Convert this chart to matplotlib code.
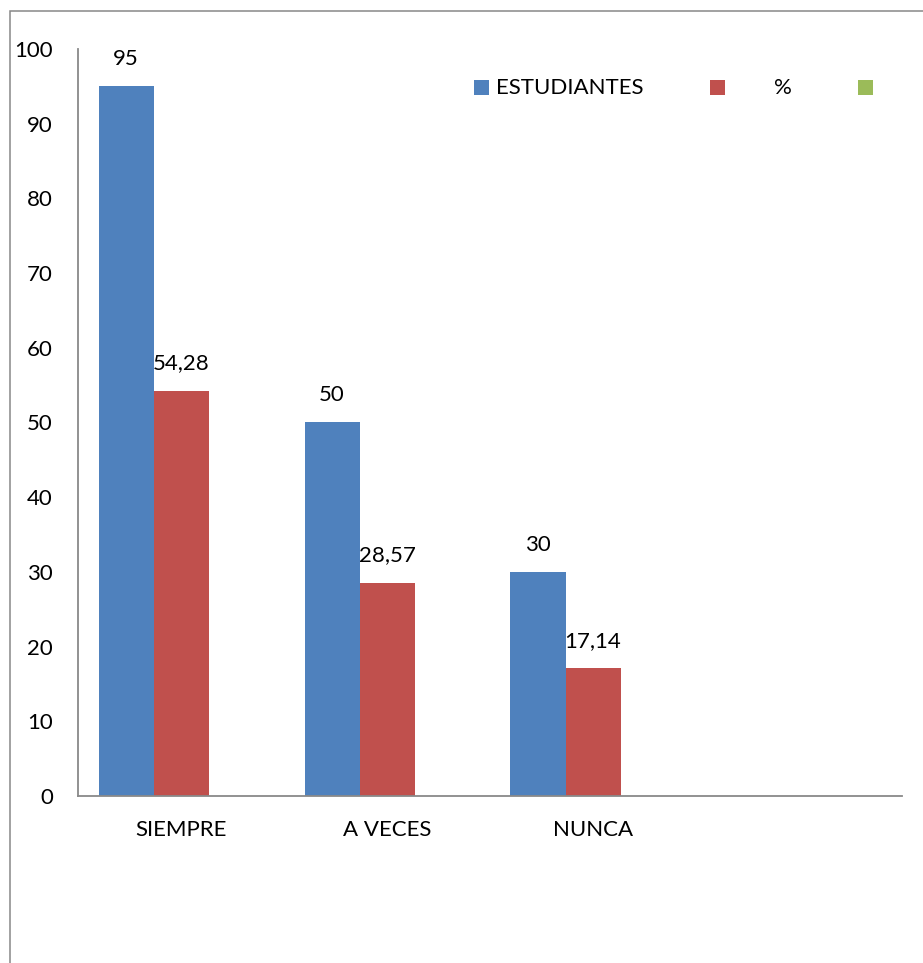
import numpy as np
import matplotlib
matplotlib.use("Agg")
import matplotlib.pyplot as plt
from matplotlib.patches import Rectangle

plt.rcParams['font.family'] = ['Lato', 'DejaVu Sans']

categories = ["SIEMPRE", "A VECES", "NUNCA", ""]
estudiantes = [95, 50, 30, np.nan]
porcentaje = [54.28, 28.57, 17.14, np.nan]
serie3 = [np.nan, np.nan, np.nan, np.nan]
series_names = ["ESTUDIANTES", "%", ""]
value_labels_est = ["95", "50", "30"]
value_labels_pct = ["54,28", "28,57", "17,14"]
yticks = [0, 10, 20, 30, 40, 50, 60, 70, 80, 90, 100]

colors = ["#4F81BD", "#C0504D", "#9BBB59"]
W, H = 923, 963
fig = plt.figure(figsize=(W / 100, H / 100), dpi=100)
fs = 16

# outer chart frame
fig.patches.append(Rectangle((9.5 / W, -0.1), 1.2, (H - 11.5) / H + 0.1,
                             transform=fig.transFigure, fill=False,
                             edgecolor="#878787", linewidth=1.1))

ax = fig.add_axes([78 / W, (H - 796) / H, (902 - 78) / W, (796 - 49) / H])
x = np.arange(len(categories))
bw = 55 / 206
offsets = [48 / 206, 0.5, 1 - 48 / 206]
all_series = [estudiantes, porcentaje, serie3]
for vals, off, c in zip(all_series, offsets, colors):
    ax.bar(x + off, vals, width=bw, color=c, linewidth=0)

for i, (v, lab) in enumerate(zip(estudiantes[:3], value_labels_est)):
    ax.annotate(lab, (x[i] + offsets[0], v), xytext=(0, 12.5), textcoords="offset points",
                ha="center", va="bottom", fontsize=fs)
for i, (v, lab) in enumerate(zip(porcentaje[:3], value_labels_pct)):
    ax.annotate(lab, (x[i] + offsets[1], v), xytext=(0, 12.5), textcoords="offset points",
                ha="center", va="bottom", fontsize=fs)

ax.set_xlim(0, len(categories))
ax.set_ylim(0, 100)
ax.set_yticks(yticks)
ax.set_yticklabels([str(t) for t in yticks], fontsize=fs)
ax.set_xticks(x + 0.5)
ax.set_xticklabels(categories, fontsize=fs)
ax.tick_params(axis="y", length=0, pad=18)
ax.tick_params(axis="x", length=0, pad=17)
for s in ["top", "right"]:
    ax.spines[s].set_visible(False)
for s in ["left", "bottom"]:
    ax.spines[s].set_color("#898989")
    ax.spines[s].set_linewidth(1.3)

# legend row
sq = 15
leg_y = 87.5
for px, c in zip([474, 710, 858], colors):
    fig.patches.append(Rectangle((px / W, (H - leg_y - sq / 2) / H), sq / W, sq / H,
                                 transform=fig.transFigure, facecolor=c, edgecolor="none"))
fig.text(496 / W, (H - leg_y) / H, series_names[0], fontsize=fs, va="center", ha="left")
fig.text(783 / W, (H - leg_y) / H, series_names[1], fontsize=fs, va="center", ha="center")
fig.text(880 / W, (H - leg_y) / H, series_names[2], fontsize=fs, va="center", ha="left")

fig.savefig("out.png", dpi=100)
